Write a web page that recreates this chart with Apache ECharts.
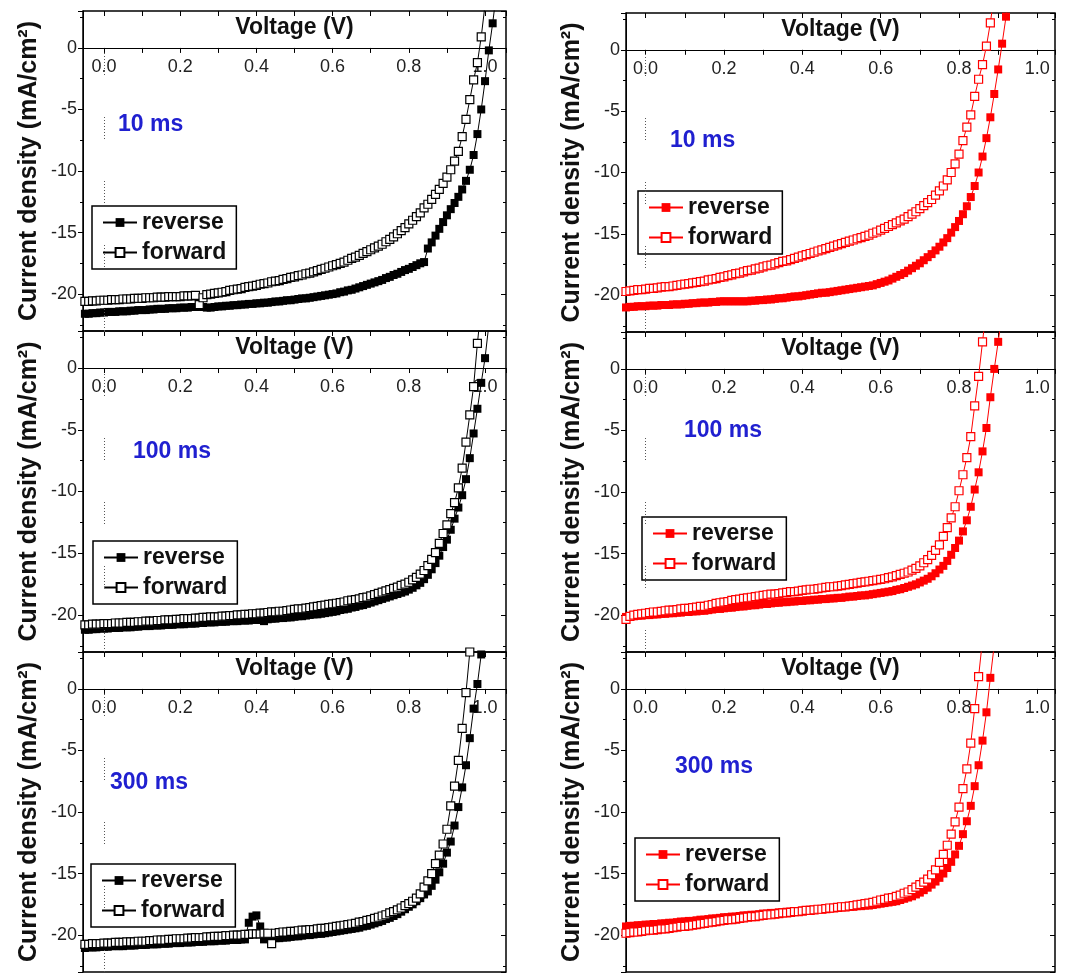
<!DOCTYPE html>
<html>
<head>
<meta charset="utf-8">
<script src="https://cdn.jsdelivr.net/npm/echarts@6/dist/echarts.min.js"></script>
<style>html,body{margin:0;padding:0;background:#fff}#chart{width:1070px;height:974px}</style>
</head>
<body>
<div id="chart"></div>
<script>
// ---- data ----
const voltage = [-0.05,-0.04,-0.03,-0.02,-0.01,0,0.01,0.02,0.03,0.04,
0.05,0.06,0.07,0.08,0.09,0.1,0.11,0.12,0.13,0.14,
0.15,0.16,0.17,0.18,0.19,0.2,0.21,0.22,0.23,0.24,
0.25,0.26,0.27,0.28,0.29,0.3,0.31,0.32,0.33,0.34,
0.35,0.36,0.37,0.38,0.39,0.4,0.41,0.42,0.43,0.44,
0.45,0.46,0.47,0.48,0.49,0.5,0.51,0.52,0.53,0.54,
0.55,0.56,0.57,0.58,0.59,0.6,0.61,0.62,0.63,0.64,
0.65,0.66,0.67,0.68,0.69,0.7,0.71,0.72,0.73,0.74,
0.75,0.76,0.77,0.78,0.79,0.8,0.81,0.82,0.83,0.84,
0.85,0.86,0.87,0.88,0.89,0.9,0.91,0.92,0.93,0.94,
0.95,0.96,0.97,0.98,0.99,1,1.01,1.02,1.03];

const timeLabels = ['10 ms', '100 ms', '300 ms'];
const seriesNames = ['reverse', 'forward'];
const xTickLabels = ['0.0', '0.2', '0.4', '0.6', '0.8', '1.0'];
const yTickLabels = ['0', '-5', '-10', '-15', '-20'];

// left column (black)
const rev10A = [-21.6,-21.6,-21.55,-21.55,-21.5,-21.5,-21.45,-21.45,-21.45,-21.4,
-21.4,-21.4,-21.35,-21.35,-21.3,-21.3,-21.3,-21.25,-21.25,-21.2,
-21.2,-21.2,-21.15,-21.15,-21.15,-21.1,-21.1,-21.1,-21.05,-21.05,
-21.0,-21.05,-21.1,-21.1,-21.05,-21.0,-21.0,-20.95,-20.95,-20.9,
-20.9,-20.85,-20.85,-20.8,-20.8,-20.75,-20.75,-20.7,-20.7,-20.65,
-20.6,-20.6,-20.55,-20.5,-20.5,-20.45,-20.4,-20.35,-20.35,-20.3,
-20.25,-20.2,-20.15,-20.1,-20.05,-20.0,-19.95,-19.85,-19.8,-19.7,
-19.65,-19.55,-19.45,-19.35,-19.25,-19.15,-19.05,-18.95,-18.85,-18.7,
-18.6,-18.45,-18.35,-18.2,-18.05,-17.95,-17.8,-17.65,-17.5,-17.4,
-16.3,-15.8,-15.25,-14.7,-14.15,-13.6,-13.1,-12.6,-12.1,-11.5,
-10.8,-9.9,-8.7,-7.0,-5.0,-2.7,-0.2,2.0,4.5];
const fwd10A = [-20.6,-20.6,-20.55,-20.55,-20.5,-20.5,-20.5,-20.45,-20.45,-20.45,
-20.4,-20.4,-20.4,-20.35,-20.35,-20.35,-20.3,-20.3,-20.3,-20.25,
-20.25,-20.25,-20.2,-20.2,-20.2,-20.2,-20.15,-20.15,-20.15,-20.1,
-20.85,-20.3,-20.05,-20.0,-19.95,-19.9,-19.85,-19.8,-19.7,-19.65,
-19.6,-19.55,-19.45,-19.4,-19.35,-19.3,-19.2,-19.15,-19.1,-19.0,
-18.95,-18.9,-18.8,-18.75,-18.65,-18.6,-18.5,-18.45,-18.35,-18.3,
-18.2,-18.1,-18.0,-17.9,-17.8,-17.7,-17.6,-17.5,-17.4,-17.25,
-17.1,-17.0,-16.85,-16.7,-16.55,-16.4,-16.25,-16.1,-15.95,-15.75,
-15.55,-15.35,-15.1,-14.85,-14.6,-14.3,-14.0,-13.7,-13.4,-13.0,
-12.7,-12.3,-11.9,-11.5,-11.0,-10.5,-9.9,-9.2,-8.4,-7.2,
-5.8,-4.2,-2.6,-1.2,0.9,3.5];
const rev100A = [-21.2,-21.2,-21.15,-21.15,-21.1,-21.1,-21.1,-21.05,-21.05,-21.05,
-21.0,-21.0,-21.0,-20.95,-20.95,-20.9,-20.9,-20.9,-20.85,-20.85,
-20.85,-20.8,-20.8,-20.8,-20.75,-20.75,-20.75,-20.7,-20.7,-20.7,
-20.65,-20.65,-20.6,-20.6,-20.6,-20.55,-20.55,-20.55,-20.5,-20.5,
-20.5,-20.45,-20.45,-20.45,-20.4,-20.4,-20.4,-20.5,-20.35,-20.3,
-20.3,-20.25,-20.25,-20.2,-20.2,-20.15,-20.1,-20.1,-20.05,-20.0,
-19.95,-19.95,-19.9,-19.85,-19.8,-19.75,-19.7,-19.6,-19.55,-19.5,
-19.4,-19.35,-19.25,-19.2,-19.1,-19.0,-18.9,-18.8,-18.7,-18.6,
-18.5,-18.4,-18.3,-18.2,-18.1,-17.95,-17.8,-17.6,-17.4,-17.1,
-16.75,-16.3,-15.8,-15.2,-14.5,-13.9,-13.1,-12.2,-11.3,-10.3,
-9.0,-7.3,-5.3,-3.3,-1.2,0.8,3.5];
const fwd100A = [-20.8,-20.8,-20.75,-20.75,-20.75,-20.7,-20.7,-20.7,-20.65,-20.65,
-20.65,-20.6,-20.6,-20.6,-20.55,-20.55,-20.5,-20.5,-20.5,-20.45,
-20.45,-20.4,-20.4,-20.4,-20.35,-20.35,-20.3,-20.3,-20.3,-20.25,
-20.25,-20.2,-20.2,-20.15,-20.15,-20.15,-20.1,-20.1,-20.05,-20.05,
-20.0,-20.0,-19.95,-19.95,-19.9,-19.9,-19.85,-19.85,-19.8,-19.75,
-19.75,-19.7,-19.7,-19.65,-19.6,-19.55,-19.5,-19.5,-19.45,-19.4,
-19.35,-19.3,-19.25,-19.2,-19.15,-19.1,-19.05,-19.0,-18.95,-18.85,
-18.8,-18.75,-18.7,-18.6,-18.55,-18.45,-18.35,-18.25,-18.15,-18.05,
-17.95,-17.85,-17.75,-17.6,-17.5,-17.35,-17.15,-16.95,-16.7,-16.4,
-16.0,-15.5,-14.95,-14.2,-13.4,-12.7,-11.8,-10.9,-9.7,-8.1,
-6.0,-3.8,-1.5,2.0,5.0];
const rev300A = [-21.05,-21.0,-21.0,-21.0,-20.95,-20.95,-20.95,-20.9,-20.9,-20.9,
-20.9,-20.85,-20.85,-20.85,-20.8,-20.8,-20.8,-20.75,-20.75,-20.75,
-20.7,-20.7,-20.7,-20.65,-20.65,-20.65,-20.6,-20.6,-20.6,-20.55,
-20.55,-20.55,-20.5,-20.5,-20.5,-20.45,-20.45,-20.45,-20.4,-20.4,
-20.4,-20.35,-20.35,-19.0,-18.5,-18.4,-19.3,-20.35,-20.3,-20.3,
-20.25,-20.25,-20.2,-20.2,-20.15,-20.1,-20.1,-20.05,-20.0,-20.0,
-19.95,-19.9,-19.9,-19.85,-19.8,-19.75,-19.7,-19.65,-19.6,-19.55,
-19.5,-19.45,-19.4,-19.3,-19.25,-19.15,-19.05,-18.95,-18.85,-18.7,
-18.6,-18.45,-18.3,-18.1,-17.9,-17.7,-17.5,-17.25,-17.0,-16.7,
-16.45,-16.0,-15.5,-14.9,-14.2,-13.3,-12.4,-11.1,-9.6,-8.0,
-6.2,-4.0,-1.6,0.4,2.8,5.0];
const fwd300A = [-20.75,-20.75,-20.7,-20.7,-20.7,-20.65,-20.65,-20.65,-20.6,-20.6,
-20.6,-20.55,-20.55,-20.55,-20.5,-20.5,-20.5,-20.45,-20.45,-20.4,
-20.4,-20.4,-20.35,-20.35,-20.3,-20.3,-20.3,-20.25,-20.25,-20.2,
-20.2,-20.2,-20.15,-20.15,-20.1,-20.1,-20.1,-20.05,-20.05,-20.0,
-20.0,-20.0,-19.95,-19.95,-19.9,-19.9,-19.9,-19.85,-19.85,-20.7,
-19.85,-19.8,-19.75,-19.75,-19.7,-19.7,-19.65,-19.6,-19.6,-19.55,
-19.55,-19.5,-19.45,-19.45,-19.4,-19.35,-19.3,-19.25,-19.2,-19.15,
-19.1,-19.05,-18.95,-18.9,-18.8,-18.75,-18.65,-18.55,-18.45,-18.35,
-18.2,-18.1,-17.95,-17.8,-17.6,-17.45,-17.25,-17.0,-16.65,-16.1,
-15.6,-15.0,-14.2,-13.5,-12.6,-11.4,-9.5,-7.9,-5.8,-3.2,
-0.3,3.0,6.0];

// right column (red)
const rev10B = [-21.0,-20.95,-20.95,-20.9,-20.9,-20.9,-20.85,-20.85,-20.85,-20.8,
-20.8,-20.8,-20.75,-20.75,-20.75,-20.7,-20.7,-20.65,-20.65,-20.6,
-20.6,-20.6,-20.55,-20.55,-20.5,-20.5,-20.5,-20.5,-20.5,-20.5,
-20.5,-20.5,-20.45,-20.45,-20.4,-20.4,-20.35,-20.35,-20.3,-20.25,
-20.25,-20.2,-20.15,-20.1,-20.1,-20.05,-20.0,-19.95,-19.9,-19.85,
-19.8,-19.8,-19.75,-19.7,-19.65,-19.6,-19.55,-19.5,-19.45,-19.4,
-19.35,-19.3,-19.25,-19.2,-19.1,-19.0,-18.9,-18.8,-18.65,-18.5,
-18.35,-18.2,-18.0,-17.8,-17.6,-17.4,-17.15,-16.9,-16.65,-16.35,
-16.05,-15.7,-15.35,-14.9,-14.45,-13.95,-13.4,-12.75,-12.0,-11.1,
-10.0,-8.7,-7.2,-5.5,-3.6,-1.6,0.5,2.7,5.0];
const fwd10B = [-19.7,-19.65,-19.6,-19.55,-19.55,-19.5,-19.45,-19.45,-19.4,-19.35,
-19.3,-19.3,-19.25,-19.2,-19.15,-19.1,-19.05,-19.0,-18.95,-18.9,
-18.85,-18.75,-18.7,-18.65,-18.55,-18.5,-18.4,-18.35,-18.25,-18.2,
-18.1,-18.0,-17.95,-17.85,-17.8,-17.7,-17.6,-17.55,-17.45,-17.35,
-17.25,-17.2,-17.1,-17.0,-16.9,-16.8,-16.7,-16.6,-16.5,-16.4,
-16.3,-16.2,-16.1,-16.0,-15.9,-15.8,-15.7,-15.6,-15.5,-15.4,
-15.3,-15.2,-15.1,-14.95,-14.85,-14.7,-14.55,-14.4,-14.25,-14.1,
-13.95,-13.8,-13.6,-13.4,-13.2,-12.95,-12.7,-12.45,-12.2,-11.85,
-11.5,-11.1,-10.6,-10.0,-9.3,-8.5,-7.4,-6.3,-5.3,-3.8,
-2.4,-1.2,0.3,2.2,4.5];
const rev100B = [-20.15,-20.1,-20.1,-20.05,-20.05,-20.0,-20.0,-19.95,-19.95,-19.9,
-19.9,-19.85,-19.85,-19.8,-19.8,-19.75,-19.75,-19.7,-19.7,-19.65,
-19.65,-19.6,-19.55,-19.5,-19.5,-19.45,-19.4,-19.4,-19.35,-19.3,
-19.3,-19.25,-19.2,-19.2,-19.15,-19.1,-19.1,-19.05,-19.0,-19.0,
-18.95,-18.95,-18.9,-18.9,-18.85,-18.85,-18.8,-18.8,-18.75,-18.75,
-18.7,-18.7,-18.65,-18.65,-18.6,-18.6,-18.55,-18.5,-18.5,-18.45,
-18.4,-18.4,-18.35,-18.3,-18.25,-18.2,-18.15,-18.1,-18.05,-17.95,
-17.9,-17.8,-17.7,-17.6,-17.5,-17.35,-17.2,-17.05,-16.85,-16.6,
-16.3,-16.0,-15.6,-15.1,-14.55,-13.95,-13.2,-12.3,-11.2,-9.8,
-8.4,-6.7,-4.8,-2.3,0.0,2.2,4.6];
const fwd100B = [-20.35,-20.1,-20.0,-19.95,-19.9,-19.85,-19.8,-19.75,-19.75,-19.7,
-19.65,-19.6,-19.6,-19.55,-19.5,-19.45,-19.45,-19.4,-19.35,-19.3,
-19.3,-19.2,-19.15,-19.05,-19.0,-18.95,-18.9,-18.8,-18.75,-18.7,
-18.65,-18.6,-18.55,-18.5,-18.45,-18.4,-18.35,-18.3,-18.3,-18.25,
-18.2,-18.15,-18.1,-18.1,-18.05,-18.0,-17.95,-17.9,-17.9,-17.85,
-17.8,-17.75,-17.7,-17.7,-17.65,-17.6,-17.55,-17.5,-17.45,-17.4,
-17.35,-17.3,-17.25,-17.2,-17.15,-17.1,-17.05,-16.95,-16.9,-16.8,
-16.7,-16.6,-16.5,-16.35,-16.2,-16.0,-15.75,-15.5,-15.15,-14.75,
-14.3,-13.6,-12.9,-12.1,-11.2,-9.9,-8.6,-7.2,-5.5,-3.0,
-0.6,2.2,5.0];
const rev300B = [-19.3,-19.25,-19.25,-19.2,-19.2,-19.15,-19.15,-19.1,-19.1,-19.05,
-19.05,-19.0,-19.0,-18.95,-18.9,-18.9,-18.85,-18.85,-18.8,-18.75,
-18.75,-18.7,-18.65,-18.65,-18.6,-18.55,-18.55,-18.5,-18.5,-18.45,
-18.4,-18.4,-18.35,-18.35,-18.3,-18.25,-18.25,-18.2,-18.2,-18.15,
-18.15,-18.1,-18.1,-18.05,-18.05,-18.0,-18.0,-17.95,-17.95,-17.9,
-17.9,-17.85,-17.85,-17.8,-17.8,-17.75,-17.75,-17.7,-17.7,-17.65,
-17.65,-17.6,-17.6,-17.55,-17.5,-17.45,-17.4,-17.35,-17.3,-17.25,
-17.15,-17.05,-16.95,-16.85,-16.7,-16.55,-16.35,-16.15,-15.9,-15.65,
-15.35,-15.0,-14.55,-14.05,-13.45,-12.75,-11.8,-10.75,-9.5,-7.9,
-6.2,-4.2,-1.9,0.9,3.6];
const fwd300B = [-19.85,-19.8,-19.75,-19.75,-19.7,-19.65,-19.6,-19.6,-19.55,-19.5,
-19.5,-19.45,-19.4,-19.35,-19.3,-19.3,-19.25,-19.2,-19.15,-19.1,
-19.05,-19.0,-18.95,-18.9,-18.85,-18.8,-18.75,-18.75,-18.7,-18.65,
-18.6,-18.55,-18.5,-18.5,-18.45,-18.4,-18.35,-18.35,-18.3,-18.25,
-18.2,-18.2,-18.15,-18.1,-18.1,-18.05,-18.0,-18.0,-17.95,-17.9,
-17.9,-17.85,-17.8,-17.8,-17.75,-17.7,-17.7,-17.65,-17.6,-17.55,
-17.5,-17.45,-17.4,-17.35,-17.25,-17.15,-17.1,-17.0,-16.95,-16.85,
-16.75,-16.6,-16.5,-16.3,-16.1,-15.9,-15.7,-15.45,-15.1,-14.7,
-14.1,-13.45,-12.7,-11.8,-10.8,-9.6,-8.1,-6.5,-4.4,-1.6,
1.0,4.0];

// ---- layout (positions/styles only) ----
const FONT = 'Liberation Sans, Arial, sans-serif';
const panels = [
  {rev: rev10A,  fwd: fwd10A,  color: '#000000', tag: 0, left: 83,  top: 11,  width: 423, height: 320, xMin: -0.055, xMax: 1.055, lg: [92, 206],  tp: [118, 113], dots: true},
  {rev: rev100A, fwd: fwd100A, color: '#000000', tag: 1, left: 83,  top: 331, width: 423, height: 321, xMin: -0.055, xMax: 1.055, lg: [93, 541],  tp: [133, 440], dots: true},
  {rev: rev300A, fwd: fwd300A, color: '#000000', tag: 2, left: 83,  top: 652, width: 423, height: 320, xMin: -0.055, xMax: 1.055, lg: [91, 864],  tp: [110, 771], dots: true},
  {rev: rev10B,  fwd: fwd10B,  color: '#ff0000', tag: 0, left: 626, top: 13,  width: 429, height: 319, xMin: -0.05,  xMax: 1.045, lg: [638, 191], tp: [670, 129], dots: true},
  {rev: rev100B, fwd: fwd100B, color: '#ff0000', tag: 1, left: 626, top: 332, width: 429, height: 320, xMin: -0.05,  xMax: 1.045, lg: [642, 517], tp: [684, 419], dots: true},
  {rev: rev300B, fwd: fwd300B, color: '#ff0000', tag: 2, left: 626, top: 652, width: 429, height: 320, xMin: -0.05,  xMax: 1.045, lg: [635, 838], tp: [675, 755], dots: false}
];
const Y_MIN = -23, Y_MAX = 3;

function xLabel(v) {
  const r = Math.round(v * 10);
  if (Math.abs(v * 10 - r) > 1e-6) return '';
  const s = (r / 10).toFixed(1);
  return xTickLabels.includes(s) ? s : '';
}
function yLabel(v) {
  const r = Math.round(v);
  if (Math.abs(v - r) > 1e-6) return '';
  const s = String(r);
  return yTickLabels.includes(s) ? s : '';
}
const pairs = vals => vals.map((j, i) => [voltage[i], j]);

const option = {
  animation: false,
  backgroundColor: '#ffffff',
  textStyle: {fontFamily: FONT},
  grid: [], xAxis: [], yAxis: [], series: [], legend: [], title: []
};

panels.forEach((p, i) => {
  option.grid.push({left: p.left, top: p.top, width: p.width, height: p.height, show: true,
    borderColor: '#000', borderWidth: 1.5, backgroundColor: 'transparent', containLabel: false,
    outerBoundsMode: 'none'});
  // x axis drawn at J = 0: shift the bottom axis up by the pixel distance of zero from the bottom edge
  const zeroShift = -p.height * (0 - Y_MIN) / (Y_MAX - Y_MIN);
  option.xAxis.push({type: 'value', gridIndex: i, position: 'bottom', offset: zeroShift,
    min: p.xMin, max: p.xMax, splitNumber: 10,
    axisLine: {show: true, onZero: false, lineStyle: {color: '#000', width: 1}},
    axisTick: {show: true, inside: false, length: 5, lineStyle: {color: '#000'}},
    axisLabel: {show: true, margin: 10, formatter: xLabel, color: '#222', fontSize: 18, fontFamily: FONT},
    splitLine: {show: false},
    name: 'Voltage (V)', nameLocation: 'middle', nameGap: -20,
    nameTextStyle: {fontSize: 23, fontWeight: 'bold', color: '#111', fontFamily: FONT, verticalAlign: 'middle', align: 'center'}});
  // top mirror axis (ticks only)
  option.xAxis.push({type: 'value', gridIndex: i, position: 'top', min: p.xMin, max: p.xMax, splitNumber: 10,
    axisLine: {show: false, onZero: false}, axisTick: {show: true, inside: true, length: 5, lineStyle: {color: '#000'}},
    axisLabel: {show: false}, splitLine: {show: false}});
  // left y axis
  option.yAxis.push({type: 'value', gridIndex: i, position: 'left', min: Y_MIN, max: Y_MAX, splitNumber: 5,
    axisLine: {show: true, onZero: false, lineStyle: {color: '#000', width: 1}},
    axisTick: {show: true, inside: false, length: 5, lineStyle: {color: '#000'}},
    minorTick: {show: true, splitNumber: 2, length: 3, lineStyle: {color: '#000'}},
    axisLabel: {show: true, margin: 6, formatter: yLabel, color: '#222', fontSize: 18, fontFamily: FONT},
    splitLine: {show: false},
    name: 'Current density (mA/cm²)', nameLocation: 'middle', nameGap: 54, nameRotate: 90,
    nameTextStyle: {fontSize: 25, fontWeight: 'bold', color: '#111', fontFamily: FONT, verticalAlign: 'middle', align: 'center'}});
  // right mirror axis
  option.yAxis.push({type: 'value', gridIndex: i, position: 'right', min: Y_MIN, max: Y_MAX, splitNumber: 5,
    axisLine: {show: false, onZero: false},
    axisTick: {show: true, inside: true, length: 5, lineStyle: {color: '#000'}},
    minorTick: {show: true, splitNumber: 2, length: 3, lineStyle: {color: '#000'}},
    axisLabel: {show: false}, splitLine: {show: false}});

  const revName = seriesNames[0] + ' #' + i;
  const fwdName = seriesNames[1] + ' #' + i;
  const rev = {
    name: revName, type: 'line', xAxisIndex: i * 2, yAxisIndex: i * 2, data: pairs(p.rev),
    symbol: 'rect', symbolSize: 8, showSymbol: true, showAllSymbol: true, clip: true, z: 3,
    lineStyle: {color: p.color, width: 1}, itemStyle: {color: p.color},
    emphasis: {disabled: true}
  };
  if (p.dots) {
    rev.markLine = {silent: true, symbol: 'none', label: {show: false}, animation: false,
      lineStyle: {color: '#555', width: 1, type: [1,2,1,2,1,2,1,2,1,2,1,2,1,2,1,42], dashOffset: 0},
      data: [{xAxis: 0}]};
  }
  const fwd = {
    name: fwdName, type: 'line', xAxisIndex: i * 2, yAxisIndex: i * 2, data: pairs(p.fwd),
    symbol: 'rect', symbolSize: 8, showSymbol: true, showAllSymbol: true, clip: true, z: 4,
    lineStyle: {color: p.color, width: 1}, itemStyle: {color: '#ffffff', borderColor: p.color, borderWidth: 1.2},
    emphasis: {disabled: true}
  };
  option.series.push(rev, fwd);
  option.legend.push({data: [revName, fwdName], orient: 'vertical', left: p.lg[0], top: p.lg[1],
    itemWidth: 34, itemHeight: 11, itemGap: 7, padding: [5, 10, 5, 10],
    borderColor: '#000', borderWidth: 1.5, backgroundColor: '#fff', selectedMode: false,
    formatter: n => n.split(' #')[0],
    textStyle: {fontSize: 23, fontWeight: 'bold', color: '#111', fontFamily: FONT}});
  option.title.push({text: timeLabels[p.tag], left: p.tp[0], top: p.tp[1], padding: 0,
    textStyle: {fontSize: 23, fontWeight: 'bold', color: '#2020d0', fontFamily: FONT}});
});

const chart = echarts.init(document.getElementById('chart'), null, {renderer: 'canvas'});
chart.setOption(option);
</script>
</body>
</html>
